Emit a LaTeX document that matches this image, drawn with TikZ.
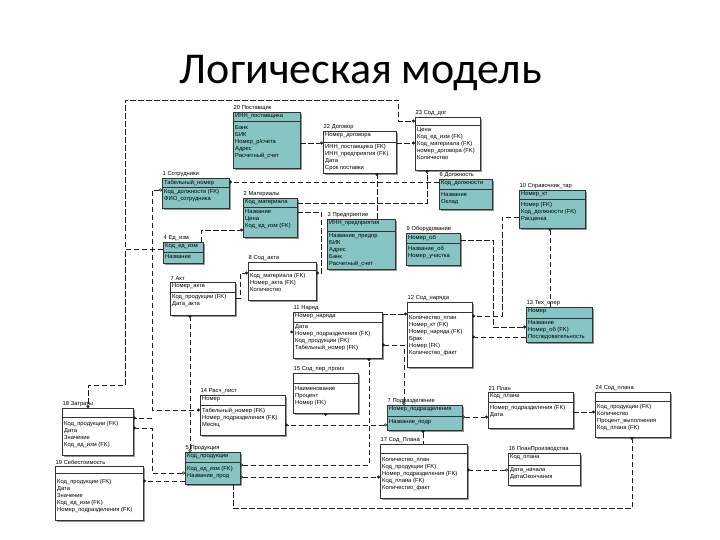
\documentclass[tikz,border=0pt]{standalone}
\usepackage{fontspec}
\setmainfont{Liberation Sans}
\newfontfamily\titlefont{Carlito}
\usetikzlibrary{arrows.meta,calc}
\definecolor{entteal}{RGB}{134,197,196}
\definecolor{shadowc}{RGB}{150,150,150}
\definecolor{linec}{RGB}{30,30,30}
\tikzset{
  entbox/.style={draw=black!80, line width=0.6pt, inner sep=0pt, outer sep=0pt, rectangle},
  entshadow/.style={fill=shadowc},
  etitle/.style={font=\fontsize{5.8}{6}\selectfont, inner sep=0.5pt, anchor=south west},
  etext/.style={font=\fontsize{5.8}{7}\selectfont, inner sep=0pt, anchor=north west, align=left},
  divline/.style={draw=black!80, line width=0.5pt},
  rel/.style={draw=linec, line width=0.6pt, dash pattern=on 5.5pt off 2.5pt},
  todot/.style={-{Circle[length=3pt]}},
  fromdot/.style={{Circle[length=3pt]}-},
  odotdot/.style={{Circle[open,length=3pt]}-{Circle[length=3pt]}},
}
% name, x, y, w, key height, h, colour, title, key
\newcommand\ent[9]{%
  \fill[entshadow] ({#2+2},{#3+2}) rectangle ({#2+#4+2},{#3+#6+2});
  \node[entbox, fill=#7, minimum width=#4pt, minimum height=#6pt, anchor=north west] (#1) at (#2,#3) {};
  \draw[divline] ($(#1.north west)+(0,#5)$) -- ($(#1.north east)+(0,#5)$);
  \node[etitle] (#1-t) at ($(#1.north west)+(0,-0.5)$) {#8};
  \node[etext] (#1-k) at ($(#1.north west)+(2,1.8)$) {#9};
}
\newcommand\eattr[3]{\node[etext] (#1-a) at ($(#1.north west)+(2,#2)$) {#3};}
\begin{document}
\begin{tikzpicture}[x=1pt,y=-1pt]
\useasboundingbox (0,0) rectangle (720,540);
\node[font=\titlefont\fontsize{44}{50}\selectfont, anchor=base, inner sep=0pt] (title) at (361,84) {Логическая модель};

% entities
\ent{post}{233}{112}{67}{9}{56}{entteal}{20 Поставщик}{ИНН\_поставщика}
\eattr{post}{13}{Банк\\БИК\\Номер\_р/счета\\Адрес\\Расчетный\_счет}
\ent{dog}{323}{131}{73}{11}{42}{white}{22 Договор}{Номер\_договора}
\eattr{dog}{13}{ИНН\_поставщика (FK)\\ИНН\_предприятия (FK)\\Дата\\Срок поставки}
\ent{soddog}{415}{117}{65}{8}{53}{white}{23 Сод\_дог}{}
\eattr{soddog}{10}{Цена\\Код\_ед\_изм (FK)\\Код\_материала (FK)\\номер\_договора (FK)\\Количество}
\ent{sotr}{162}{178}{67}{9}{30}{entteal}{1 Сотрудники}{Табельный\_номер}
\eattr{sotr}{11}{Код\_должности (FK)\\ФИО\_сотрудника}
\ent{mat}{243}{198}{54}{9}{39}{entteal}{2 Материалы}{Код\_материала}
\eattr{mat}{11}{Название\\Цена\\Код\_ед\_изм (FK)}
\ent{edizm}{163}{242}{40}{10}{21}{entteal}{4 Ед\_изм}{Код\_ед\_изм}
\eattr{edizm}{12}{Название}
\ent{akt}{170}{282}{65}{10}{33}{white}{7 Акт}{Номер\_акта}
\eattr{akt}{12}{Код\_продукции (FK)\\Дата\_акта}
\ent{sodakt}{248}{262}{68}{8}{38}{white}{8 Сод\_акта}{}
\eattr{sodakt}{11}{Код\_материала (FK)\\Номер\_акта (FK)\\Количество}
\ent{dolzh}{439}{179}{53}{10}{30}{entteal}{6 Должность}{Код\_должности}
\eattr{dolzh}{13}{Название\\Оклад}
\ent{sprav}{519}{190}{66}{9}{38}{entteal}{10 Справочник\_тар}{Номер\_кт}
\eattr{sprav}{12}{Номер (FK)\\Код\_должности (FK)\\Расценка}
\ent{pred}{327}{219}{68}{12}{50}{entteal}{3 Предприятие}{ИНН\_предприятия}
\eattr{pred}{14}{Название\_предпр\\БИК\\Адрес\\Банк\\Расчетный\_счет}
\ent{obor}{406}{233}{54}{10}{32}{entteal}{9 Оборудование}{Номер\_об}
\eattr{obor}{13}{Название\_об\\Номер\_участка}
\ent{naryad}{293}{312}{89}{10}{46}{white}{11 Наряд}{Номер\_наряда}
\eattr{naryad}{12}{Дата\\Номер\_подразделения (FK)\\Код\_продукции (FK)\\Табельный\_номер (FK)}
\ent{sodnar}{407}{302}{65}{10}{65}{white}{12 Сод\_наряда}{}
\eattr{sodnar}{13}{Количество\_план\\Номер\_кт (FK)\\Номер\_наряда (FK)\\Брак\\Номер (FK)\\Количество\_факт}
\ent{tehop}{526}{307}{66}{11}{35}{entteal}{13 Тех\_опер}{Номер}
\eattr{tehop}{13}{Название\\Номер\_об (FK)\\Последовательность}
\ent{sodper}{293}{373}{65}{10}{40}{white}{15 Сод\_пер\_произ}{}
\eattr{sodper}{13}{Наименование\\Процент\\Номер (FK)}
\ent{raschl}{200}{395}{85}{10}{40}{white}{14 Расч\_лист}{Номер}
\eattr{raschl}{13}{Табельный\_номер (FK)\\Номер\_подразделения (FK)\\Месяц}
\ent{zatr}{62}{408}{71}{9}{47}{white}{18 Затраты}{}
\eattr{zatr}{13}{Код\_продукции (FK)\\Дата\\Значение\\Код\_ед\_изм (FK)}
\ent{sebest}{55}{466}{88}{7}{54}{white}{19 Себестоимость}{}
\eattr{sebest}{13}{Код\_продукции (FK)\\Дата\\Значение\\Код\_ед\_изм (FK)\\Номер\_подразделения (FK)}
\ent{prod}{185}{452}{55}{10}{32}{entteal}{5 Продукция}{Код\_продукции}
\eattr{prod}{14}{Код\_ед\_изм (FK)\\Название\_прод}
\ent{podr}{387}{405}{75}{11}{25}{entteal}{7 Подразделение}{Номер\_подразделения}
\eattr{podr}{14}{Название\_подр}
\ent{sodPlana}{380}{444}{87}{9}{54}{white}{17 Сод\_Плана}{}
\eattr{sodPlana}{13}{Количество\_план\\Код\_продукции (FK)\\Номер\_подразделения (FK)\\Код\_плана (FK)\\Количество\_факт}
\ent{plan}{488}{392}{85}{10}{36}{white}{21 План}{Код\_плана}
\eattr{plan}{13}{Номер\_подразделения (FK)\\Дата}
\ent{sodplan}{595}{392}{75}{9}{45}{white}{24 Сод\_плана}{}
\eattr{sodplan}{12}{Код\_продукции (FK)\\Количество\\Процент\_выполнения\\Код\_плана (FK)}
\ent{pp}{508}{453}{72}{12}{32}{white}{16 ПланПроизводства}{Код\_плана}
\eattr{pp}{14}{Дата\_начала\\ДатаОкончания}

% connectors
\draw[rel,todot] (post.east |- 0,143) -- (dog.west |- 0,143);
\draw[rel,todot] (dog.east |- 0,143) -- (soddog.west |- 0,143);
\draw[rel,todot] (edizm.west |- 0,249) -- (125,249) -- (125,100) -- (398,100) -- (398,121) -- (soddog.west |- 0,121);
\draw[rel,todot] (edizm.west |- 0,249) -- (125,249) -- (125,385) -- (88,385) -- (zatr.north -| 88,0);
\draw[rel,todot] (dolzh.west |- 0,182) -- (sotr.east |- 0,182);
\draw[rel,todot] (mat.east |- 0,203) -- (427,203) -- (soddog.south -| 427,0);
\draw[rel,todot] ($(edizm.north east)+(-2,0)$) -- ($(edizm.north east)+(-2,-12)$) -- (mat.west |- 0,230);
\draw[rel,todot] (pred.north -| 377,0) -- (dog.south -| 377,0);
\draw[rel,todot] (akt.east |- 0,298) -- (240,298) -- (240,273) -- (sodakt.west |- 0,273);
\draw[rel,todot] (mat.east |- 0,212) -- (321,212) -- (321,273) -- (sodakt.east |- 0,273);
\draw[rel,todot] (naryad.east |- 0,314) -- (sodnar.west |- 0,314);
\draw[rel,odotdot] (podr.north -| 404,0) -- (404,345) -- (naryad.east |- 0,345);
\draw[rel,odotdot] (prod.east |- 0,465) -- (369,465) -- (naryad.south -| 369,0);
\draw[rel,odotdot] (prod.east |- 0,477) -- (sodPlana.west |- 0,477);
\draw[rel,todot] (prod.south -| 233,0) -- (233,508) -- (632,508) -- (sodplan.south -| 632,0);
\draw[rel,odotdot] (prod.north -| 190,0) -- (akt.south -| 190,0);
\draw[rel,odotdot] (prod.west |- 0,473) -- (152,473) -- (152,428) -- (zatr.east |- 0,428);
\draw[rel,todot] (152,418) -- (zatr.east |- 0,418);
\draw[rel,todot] (prod.west |- 0,481) -- (sebest.east |- 0,481);
\draw[rel,odotdot] (sotr.west |- 0,190) -- (152,190) -- (152,410) -- (raschl.west |- 0,410);
\draw[rel,odotdot] (podr.west |- 0,425) -- (raschl.east |- 0,425);
\draw[rel,odotdot] (podr.east |- 0,417) -- (plan.west |- 0,417);
\draw[rel,fromdot] (podr.south -| 423,0) -- (sodPlana.north -| 423,0);
\draw[rel,odotdot] (pp.west |- 0,470) -- (sodPlana.east |- 0,470);
\draw[rel,todot] (plan.east |- 0,412) -- (sodplan.west |- 0,412);
\draw[rel,todot] (sprav.west |- 0,217) -- (502,217) -- (502,316) -- (sodnar.east |- 0,316);
\draw[rel,todot] (obor.east |- 0,240) -- (493,240) -- (493,327) -- (tehop.west |- 0,327);
\draw[rel,todot] (tehop.west |- 0,337) -- (sodnar.east |- 0,337);
\draw[rel,todot] (tehop.north -| 550,0) -- (sprav.south -| 550,0);
\fill[linec] ($(naryad.west)+(-1.5,-3)$) circle (1.5);
\fill[linec] ($(sodper.south)+(0,1.5)$) circle (1.5);
\end{tikzpicture}
\end{document}
